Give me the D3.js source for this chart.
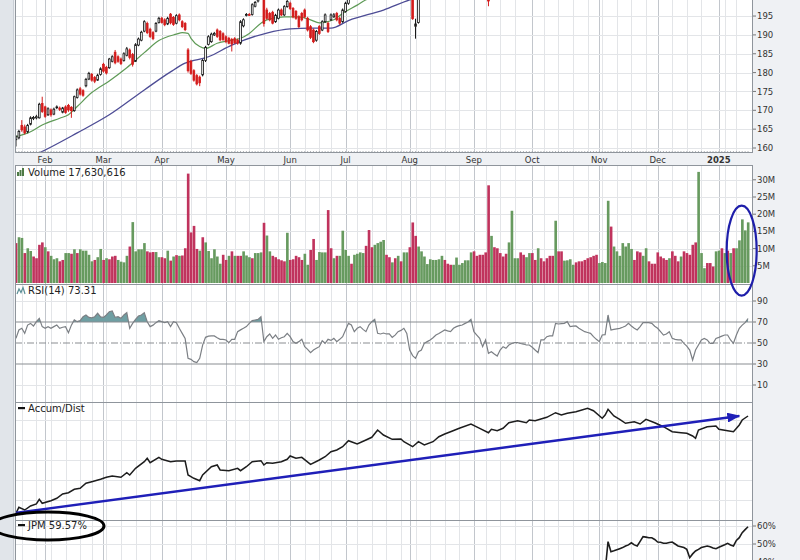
<!DOCTYPE html>
<html><head><meta charset="utf-8">
<script src="https://cdn.jsdelivr.net/npm/d3@7"></script>
<style>
body{margin:0;background:#eff1f4;}
svg{display:block;font-family:"DejaVu Sans",Verdana,sans-serif;}
</style></head>
<body><svg id="chart" width="800" height="560"></svg>
<script>
// ---------------- DATA ----------------
const firstDay = "2024-01-18", lastDay = "2025-01-17";
const holidays = ["2024-02-19","2024-03-29","2024-05-27","2024-06-19","2024-07-04","2024-09-02","2024-11-28","2024-12-25","2025-01-01","2025-01-09"];
const monthNames = ["Jan","Feb","Mar","Apr","May","Jun","Jul","Aug","Sep","Oct","Nov","Dec"];
const priceTicks = [160,165,170,175,180,185,190,195,200];
const volumeTicks = [5,10,15,20,25,30];           // millions
const rsiTicks = [10,30,50,70,90];
const perfTicks = [40,50,60];
const volumeLabel = "Volume 17,630,616";
const rsiLabel = "RSI(14) 73.31";
const adLabel = "Accum/Dist";
const perfLabel = "JPM 59.57%";

// candles (null = above the visible price range)
const candleOpen = [162.2,162.7,166.0,165.6,164.3,166.3,167.8,168.0,168.0,171.8,170.9,168.8,170.1,169.0,170.8,170.6,169.5,170.9,171.3,170.8,
169.9,173.4,175.7,175.2,176.5,178.3,179.5,178.7,178.0,179.5,182.2,181.4,181.3,183.0,185.4,184.2,183.6,183.2,184.6,186.0,
184.8,183.0,187.3,188.6,191.0,193.0,191.5,190.6,191.0,193.3,194.4,194.0,192.9,195.5,194.6,193.1,195.3,193.5,193.0,186.0,
183.0,180.5,179.2,178.8,179.4,183.2,187.5,188.2,190.0,191.3,190.9,190.3,189.5,189.1,188.8,189.0,188.6,187.8,192.4,195.2,
195.4,195.4,197.6,199.0,200.5,201.5,196.6,195.7,196.0,193.5,194.4,196.6,195.3,197.5,198.4,197.0,196.2,194.8,195.7,196.6,
194.4,192.2,191.3,188.6,192.2,191.3,193.5,193.1,194.0,194.8,195.7,194.4,193.5,196.2,198.4,null,null,null,null,null,
null,null,null,null,null,null,null,null,null,null,null,null,null,null,null,null,203.0,192.3,193.3,null,
null,null,null,null,null,null,null,null,null,null,null,null,null,null,null,null,null,null,null,null,
null,null,202.0];
const candleHigh = [163.4,164.8,167.4,166.2,166.4,168.4,168.5,168.8,172.0,173.6,171.2,170.8,170.5,170.7,171.3,171.0,170.9,171.3,171.7,171.1,
173.9,175.8,176.2,175.6,178.6,180.2,179.9,179.1,179.7,181.4,182.6,181.8,183.9,184.6,186.0,184.6,184.0,185.4,186.8,186.4,
185.2,187.8,189.3,191.1,193.9,193.5,191.9,191.0,193.4,194.8,194.8,194.4,194.8,195.8,195.0,195.5,195.7,193.9,193.4,186.5,
183.4,180.9,179.6,179.2,183.6,187.1,189.9,190.6,190.8,191.7,191.3,190.7,189.9,189.5,189.2,189.4,189.0,193.9,194.4,195.8,
195.8,198.4,199.0,201.0,202.5,202.0,197.2,196.1,196.4,195.6,197.0,197.0,197.9,199.3,198.8,197.4,196.6,195.2,196.1,197.0,
194.8,192.6,191.7,191.3,192.6,193.9,195.7,193.5,195.7,195.8,196.1,194.8,197.0,198.8,200.0,null,null,null,null,null,
null,null,null,null,null,null,null,null,null,null,null,null,null,null,null,null,203.5,194.3,201.0,null,
null,null,null,null,null,null,null,null,null,null,null,null,null,null,null,null,null,null,null,null,
null,null,204.0];
const candleLow = [160.4,162.3,164.3,163.6,163.9,166.0,167.4,167.6,167.8,169.3,168.0,168.5,168.3,168.7,170.3,169.8,169.2,169.1,169.6,168.0,
169.6,173.1,173.9,173.6,176.1,178.0,177.6,177.2,177.8,179.2,180.0,179.5,181.0,182.7,182.2,182.6,182.0,182.9,184.3,183.5,
181.6,182.8,187.0,188.3,190.7,190.2,189.2,188.6,190.7,193.0,193.0,192.3,192.6,192.8,192.4,192.8,193.6,191.8,191.0,180.0,
179.4,177.6,176.6,176.4,179.0,182.8,187.2,187.9,189.7,189.2,188.3,188.4,187.8,187.5,185.6,187.6,187.4,187.4,192.0,194.9,
195.0,195.1,197.3,198.6,200.0,192.2,194.0,193.6,192.8,193.2,194.1,195.0,195.0,197.2,196.6,194.4,194.0,191.8,193.6,194.4,
190.9,188.9,187.8,188.2,190.0,191.0,193.2,190.5,193.7,194.5,193.6,192.7,193.2,195.9,198.0,null,null,null,null,null,
null,null,null,null,null,null,null,null,null,null,null,null,null,null,null,null,194.0,189.0,193.0,null,
null,null,null,null,null,null,null,null,null,null,null,null,null,null,null,null,null,null,null,null,
null,null,197.6];
const candleClose = [163.0,164.4,164.8,164.0,166.0,168.0,168.1,168.3,171.6,169.7,168.4,170.4,168.8,170.3,170.9,170.2,170.6,169.4,170.1,169.9,
173.6,175.4,174.3,174.0,178.2,179.8,178.0,177.7,179.3,181.0,180.4,179.9,183.6,184.2,182.6,183.0,182.4,185.0,186.3,184.0,
182.2,187.4,188.9,190.7,193.5,190.6,189.6,189.0,193.0,194.4,193.3,192.7,194.4,193.2,192.8,195.1,194.0,192.2,191.4,180.5,
179.8,178.0,177.0,177.3,183.2,186.7,189.5,190.2,190.4,189.6,188.7,188.8,188.2,187.8,187.6,187.9,187.8,193.5,194.0,195.4,
195.3,198.0,198.6,200.5,202.0,193.0,194.4,194.0,193.1,195.2,196.6,195.3,197.5,198.9,197.0,194.8,194.4,192.2,194.0,194.8,
191.3,189.3,188.2,190.9,190.4,193.5,195.3,190.9,195.3,195.3,194.0,193.1,196.6,198.4,199.5,null,null,null,null,null,
null,null,null,null,null,null,null,null,null,null,null,null,null,null,null,null,194.3,192.9,200.5,null,
null,null,null,null,null,null,null,null,null,null,null,null,null,null,null,null,null,null,null,null,
null,null,199.0];

// moving averages (trading-day index, price)
const maShortDay = [0,5,9,15,18,21,26,32,38,44,49,55,57,59,60,63,65,69,74,77,80,84,86,92,97,101,104,109,112,117,120,124];
const maShortVal = [163.0,164.3,166.1,167.9,168.8,171.0,174.7,177.8,181.3,185.3,188.5,190.2,190.6,190.4,189.1,186.9,186.4,187.8,188.6,189.1,190.4,193.1,194.0,194.8,194.8,194.0,193.2,194.0,195.7,197.9,199.3,200.6];
const maLongDay = [0,8,21,32,44,53,58,66,74,86,94,101,108,114,126,135,140];
const maLongVal = [156.0,158.7,164.0,168.8,175.4,180.2,182.5,184.2,187.3,190.5,191.6,191.8,191.8,193.8,196.6,199.3,200.5];

// volume (millions) and up/down days
const volumeM = [11.6,13.3,13.1,8.7,10.1,9.3,7.7,7.2,11.1,11.8,
10.4,9.2,7.9,6.9,7.2,6.3,6.7,8.7,8.7,8.5,
9.8,8.7,9.8,9.4,9.4,8.2,6.3,6.7,7.5,9.9,
6.7,7.2,6.9,7.7,7.9,6.7,6.2,6.0,7.9,10.6,
17.7,9.2,9.8,9.8,11.6,9.2,8.9,9.0,9.0,7.5,
7.5,7.2,9.4,6.5,7.7,8.1,7.9,8.0,10.1,31.8,
14.7,16.6,9.9,9.4,13.3,11.8,9.3,7.2,9.8,7.7,
5.6,8.2,6.7,7.9,9.2,7.9,7.9,7.9,9.2,8.0,
7.5,7.2,8.7,8.7,8.9,17.5,13.8,9.2,7.9,7.5,
6.9,6.6,6.3,14.6,6.7,6.9,7.9,7.5,6.7,8.5,
5.3,9.6,12.8,6.7,9.0,8.9,8.9,21.2,10.1,7.2,
7.9,7.9,15.2,9.6,7.9,5.6,8.2,8.5,8.9,8.7,
10.8,15.4,10.4,11.1,11.6,12.0,12.5,8.2,7.5,6.0,
7.2,7.9,6.3,8.9,8.9,10.4,17.6,13.7,10.6,9.2,
7.7,5.5,6.9,6.7,6.7,6.9,7.9,6.7,5.6,5.3,
5.3,7.4,5.3,5.8,6.6,6.6,8.9,9.2,7.9,8.2,
8.2,8.9,28.4,13.7,10.4,10.1,8.7,7.7,8.5,11.8,
21.0,7.2,7.2,8.9,8.2,7.5,8.7,8.7,6.7,10.1,
7.2,6.3,7.2,7.9,7.9,18.1,9.2,9.2,6.5,6.6,
6.9,5.3,6.0,6.3,6.3,6.7,7.2,7.5,7.9,8.2,
5.8,6.1,5.8,23.9,16.4,10.6,9.2,7.9,11.6,10.6,
11.6,9.9,6.7,9.2,8.9,7.9,10.1,6.3,5.6,5.6,
8.9,7.7,7.2,6.7,7.2,9.2,7.9,6.3,7.7,9.2,
8.7,8.2,11.1,11.8,32.3,8.7,4.3,5.8,5.8,4.8,
9.2,9.4,10.1,8.7,9.4,8.7,10.1,10.1,12.4,18.5,
15.3,17.63];
const volumeUpDown = ("DUUDUUDDDD"+"UDUUUDDUUD"+"UDUUUUUDUU"+"DUDDDUUUUD"+"UUUUUDDDUU"+
 "DDUDUDUDDD"+"DDDUDUUUUU"+"UDDUDUDDUU"+"UDUUUDUUDD"+"DDDUDDDDDU"+
 "UDDUUUUDDU"+"DUUUUDUUUU"+"DDDUUUUDDU"+"DUDUUDDDUU"+"UUUUUUUDDD"+
 "UUUUUUUDDD"+"DDDUDDDDDU"+"UUUDDUUDDU"+"DDDDDUDDUU"+"UUDDDDDDDD"+
 "UUUUDUUUUU"+"UUDDDUUDDD"+"DDDDUDDDUD"+"DDDDUUUDDD"+"UUDUDUDUUU"+"UU").split("");

// RSI(14)
const rsi14 = [54.4,62.4,64,59.2,67.1,68.7,66.2,70.3,73.5,65.6,64,65.6,64,65.6,67.1,64,65,65.6,59.8,67,
72,70.3,71.3,75,76.7,74.4,74,75,78.3,74.8,74.4,76.7,79.8,80.5,74.4,75,73.5,76.7,78.9,64,
68.7,72.5,75.7,76.7,78.9,70.3,65.6,67,69.4,71.3,70.3,69.4,70.3,65.6,70.3,69.4,64,59.2,54.4,35.4,
34.4,32.2,31.3,35.4,48,55.4,56.5,56.7,56.7,55,53.5,53.5,52.9,50.3,53.5,53.5,60.8,62.5,64,65.6,
68.7,71.3,71.9,72.5,75,51.3,56,58.6,54.4,57.6,53.5,55,56,59.2,56,51.3,49.7,51.3,53.5,46.5,
44,40.8,43.3,44.9,46.5,52.2,49.7,53.5,52.5,54.4,51.3,53.5,56,62.4,68.7,67.1,60.8,64,65.6,63,
60.8,67.1,70.3,72.5,59.2,58.6,59.5,58.6,58.6,55.4,57.5,60.8,62,64,59.2,43.3,38,35.4,41.7,43.3,
49.7,51.3,52.9,55,57.6,59,60.8,62.4,61.5,60.8,64,65.6,66.5,67.1,68.7,70,72.5,60.8,57.6,54.4,
46.5,52.9,40.2,41.7,39.5,37.6,43.3,46.5,44.9,48.1,49.5,50.3,50.3,49.5,49,48.1,48.1,46,43.3,40.8,
52.9,52.9,56,56.7,56.7,68.7,68.1,68.5,68.7,70.3,65.6,66,66.2,64,62.4,60.8,60,59.2,56,53.5,
51.3,57.6,58,76.7,62.4,63,63.5,64,65,66.2,68.7,66.2,64,62.4,65.6,69.4,69.4,69.4,68.7,66,
64,60.8,57.6,58.6,60.8,54.4,53.5,53,52.9,49.7,47.1,43.3,33.8,43.3,48.1,52.9,54.4,52.9,49.7,49.7,
54.4,55.4,56.5,57.6,57.6,52.9,49.7,57.6,64,67,69.4,73.31];

// Accumulation/Distribution line (relative, millions) read at trading-day indices
const adDay = [0,1,3,5,7,8,9,12,14,16,18,20,22,24,26,29,31,33,36,38,39,41,44,45,46,49,50,53,55,58,59,61,63,64,67,69,70,73,76,77,79,81,84,85,86,88,91,93,94,96,98,101,104,106,108,110,112,114,117,120,122,124,126,129,132,133,136,138,140,143,145,147,149,152,156,159,162,163,165,167,169,172,175,176,178,182,185,187,189,192,196,198,201,202,203,205,207,209,212,214,216,219,222,225,228,230,232,233,234,237,240,241,244,246,248,249,251];
const adValue = [6.7,12.7,10,14,16,20.7,16.7,19.3,21.7,26,27.3,30.7,31.7,36.7,38.3,40.7,42.7,44,42.7,47.3,45,51.7,58.3,61.7,57.3,62.7,60.7,58.3,59,59,45,41.7,39.3,45,53.3,55,50,49.3,51.7,49.3,53.3,58.3,59.3,55,57.3,56.7,58.3,60.7,64,61.7,62.7,55.7,60,63.3,68.3,70,73.3,79.3,76,80,82.7,90,85,80.7,81,78.3,73.3,78.3,75,78.3,83.3,86,88.3,91.7,96,91.7,87.3,90.7,89.3,91.7,97.3,99.3,97.3,100,99.3,102.7,107.3,105,106.7,108.3,111.7,109.3,101.7,105,110.7,104,100.7,96.7,98.3,96,100.7,97.3,93.3,88.3,87.3,86.7,84,81.7,90,93.3,94,90.7,89.3,88.3,95,100,104];

// JPM performance (%), visible part of the lower panel
const perfDay = [202,203,204,205,206,207,208,209,210,211,212,213,214,215,216,217,218,219,220,221,222,223,224,225,226,227,228,229,230,231,232,233,234,235,236,237,238,239,240,241,242,243,244,245,246,247,248,249,250,251];
const perfValue = [35,51.3,45.7,46.2,46.8,47.4,48,48.9,49.5,50.7,49.5,48.9,51.5,54.1,53.8,53.5,53.5,52.5,51.1,51,50.4,50.4,50.8,51.1,50,48.9,48.5,48,47,42.4,44.5,46.1,47,48,48.5,48.9,48.5,47.8,47.4,48.2,48.9,49.6,50.4,49.5,48.9,52,53.5,56.3,58,59.57];

// annotations (in data terms)
const trendStart = {day:0, value:7}, trendEnd = {day:248, value:104};

// ---------------- LAYOUT ----------------
const svg = d3.select("#chart");
const L = 15, R = 753;
const panels = {
  price:{t:-20,b:153}, vol:{t:165,b:284}, rsi:{t:284,b:402}, ad:{t:402,b:520}, perf:{t:520,b:620}
};
const fmt = d3.utcFormat("%Y-%m-%d");
const days = d3.utcDay.range(d3.utcParse("%Y-%m-%d")(firstDay), d3.utcDay.offset(d3.utcParse("%Y-%m-%d")(lastDay),1))
  .filter(d => d.getUTCDay()!==0 && d.getUTCDay()!==6 && !holidays.includes(fmt(d)));
const dayKeys = days.map(fmt);

const x = d3.scaleBand().domain(dayKeys).range([14.5, 749.5]).paddingInner(0.2).paddingOuter(0.1);
const cx = i => x(dayKeys[i]) + x.bandwidth()/2;

const yPrice = d3.scaleLinear().domain([160,200]).range([148,-2.8]);
const yVol = d3.scaleLinear().domain([0,30]).range([283,179.8]);
const yRsi = d3.scaleLinear().domain([0,100]).range([395.5,290.5]);
const yAd = d3.scaleLinear().domain([0,118]).range([520,402]);
const yPerf = d3.scaleLinear().domain([50,60]).range([544,526]);

const monthStarts = [], weekStarts = [];
days.forEach((d,i)=>{
  if(i===0) return;
  const p = days[i-1];
  if(d.getUTCMonth()!==p.getUTCMonth()) monthStarts.push(i);
  if(d.getUTCDay() < p.getUTCDay()) weekStarts.push(i);
});
const weekOnly = weekStarts.filter(w => !monthStarts.some(m => m-w>=0 && m-w<=2));

const defs = svg.append("defs");
Object.entries(panels).forEach(([k,p])=>{
  defs.append("clipPath").attr("id","clip-"+k).append("rect")
    .attr("x",L).attr("y",p.t).attr("width",R-L).attr("height",p.b-p.t);
});

// background strips
svg.append("rect").attr("x",0).attr("y",0).attr("width",800).attr("height",560).attr("fill","#eff1f4");
svg.append("rect").attr("x",0).attr("y",0).attr("width",13).attr("height",560).attr("fill","#e1e5ea");
svg.append("line").attr("x1",13.5).attr("x2",13.5).attr("y1",0).attr("y2",560).attr("stroke","#c9ced5");

// panel frames + vertical grids
Object.entries(panels).forEach(([k,p])=>{
  svg.append("rect").attr("x",L).attr("y",p.t).attr("width",R-L).attr("height",p.b-p.t)
    .attr("fill","#fff");
  const g = svg.append("g").attr("clip-path",`url(#clip-${k})`);
  g.selectAll("line.w").data(weekOnly).join("line")
    .attr("x1",i=>Math.round(cx(i))+0.5).attr("x2",i=>Math.round(cx(i))+0.5)
    .attr("y1",p.t).attr("y2",p.b).attr("stroke","#e3e5e8").attr("stroke-width",1);
  g.selectAll("line.m").data(monthStarts).join("line")
    .attr("x1",i=>Math.round(cx(i))+0.5).attr("x2",i=>Math.round(cx(i))+0.5)
    .attr("y1",p.t).attr("y2",p.b).attr("stroke","#c2c6cc").attr("stroke-width",1);
});

function hGrid(panelKey, scale, ticks, color){
  const g = svg.append("g").attr("clip-path",`url(#clip-${panelKey})`);
  g.selectAll("line").data(ticks).join("line")
    .attr("x1",L).attr("x2",R).attr("y1",d=>Math.round(scale(d))+0.5).attr("y2",d=>Math.round(scale(d))+0.5)
    .attr("stroke",color||"#e3e5e8");
}
function rightAxis(scale, ticks, fmtFn, top, bottom){
  const g = svg.append("g");
  ticks.forEach(t=>{
    const yy = scale(t);
    if(yy<top-6||yy>bottom+6) return;
    g.append("line").attr("x1",R).attr("x2",R+3).attr("y1",yy).attr("y2",yy).attr("stroke","#777");
    g.append("text").attr("x",R+4).attr("y",yy).attr("dy","0.36em").attr("font-size",8.5)
      .attr("fill","#333").text(fmtFn(t));
  });
}

// ---------- PRICE ----------
hGrid("price", yPrice, priceTicks);
const gPrice = svg.append("g").attr("clip-path","url(#clip-price)");
const lineMA = (days_, vals, sc) => d3.line().x((d,i)=>cx(days_[i])).y((d,i)=>sc(vals[i])).curve(d3.curveMonotoneX)(vals);
gPrice.append("path").attr("d",lineMA(maLongDay,maLongVal,yPrice)).attr("fill","none").attr("stroke","#4d4c95").attr("stroke-width",1.3);
gPrice.append("path").attr("d",lineMA(maShortDay,maShortVal,yPrice)).attr("fill","none").attr("stroke","#5e9a56").attr("stroke-width",1.2);
const candleIdx = d3.range(candleClose.length).filter(i=>candleClose[i]!==null);
const bw = x.bandwidth();
const cg = gPrice.selectAll("g.c").data(candleIdx).join("g");
cg.append("line").attr("x1",i=>cx(i)).attr("x2",i=>cx(i))
  .attr("y1",i=>yPrice(candleHigh[i])).attr("y2",i=>yPrice(candleLow[i]))
  .attr("stroke",i=>candleClose[i]>=candleOpen[i]?"#111":"#d41c1c").attr("stroke-width",1);
cg.append("rect").attr("x",i=>cx(i)-bw/2+0.3).attr("width",bw-0.6)
  .attr("y",i=>yPrice(Math.max(candleOpen[i],candleClose[i])))
  .attr("height",i=>Math.max(0.8,Math.abs(yPrice(candleOpen[i])-yPrice(candleClose[i]))))
  .attr("fill",i=>candleClose[i]>=candleOpen[i]?"#fff":"#d41c1c")
  .attr("stroke",i=>candleClose[i]>=candleOpen[i]?"#111":"#d41c1c").attr("stroke-width",0.8);
// day ticks along the bottom edge
svg.append("g").selectAll("line").data(d3.range(dayKeys.length)).join("line")
  .attr("x1",i=>cx(i)).attr("x2",i=>cx(i)).attr("y1",151).attr("y2",153).attr("stroke","#8d9196").attr("stroke-width",0.7);
svg.append("rect").attr("x",L+0.5).attr("y",panels.price.t).attr("width",R-L-1).attr("height",panels.price.b-panels.price.t-0.5)
  .attr("fill","none").attr("stroke","#8f959c");
rightAxis(yPrice, priceTicks, d=>d, -10, 153);

// month labels
svg.append("g").selectAll("text").data(monthStarts).join("text")
  .attr("x",i=>cx(i)).attr("y",163).attr("text-anchor","middle").attr("font-size",8.5)
  .attr("font-weight",i=>days[i].getUTCMonth()===0?"bold":"normal")
  .attr("fill","#333")
  .text(i=>days[i].getUTCMonth()===0?String(days[i].getUTCFullYear()):monthNames[days[i].getUTCMonth()]);

// ---------- VOLUME ----------
hGrid("vol", yVol, volumeTicks);
const gVol = svg.append("g").attr("clip-path","url(#clip-vol)");
gVol.selectAll("rect").data(volumeM).join("rect")
  .attr("x",(d,i)=>x(dayKeys[i])).attr("width",bw+0.3)
  .attr("y",d=>yVol(d)).attr("height",d=>yVol(0)-yVol(d))
  .attr("fill",(d,i)=>volumeUpDown[i]==="U"?"#679a5f":"#c0335d");
rightAxis(yVol, volumeTicks, d=>d+"M", 165, 284);

// ---------- RSI ----------
hGrid("rsi", yRsi, [10,90]);
const gR = svg.append("g").attr("clip-path","url(#clip-rsi)");
defs.append("clipPath").attr("id","clip-ob").append("rect").attr("x",L).attr("y",panels.rsi.t).attr("width",R-L).attr("height",yRsi(70)-panels.rsi.t);
gR.append("path").attr("clip-path","url(#clip-ob)")
  .attr("d",d3.area().x((d,i)=>cx(i)).y0(yRsi(70)).y1(d=>yRsi(d))(rsi14))
  .attr("fill","#6f9fa3");
gR.append("line").attr("x1",L).attr("x2",R).attr("y1",yRsi(70)).attr("y2",yRsi(70)).attr("stroke","#8a8d91").attr("stroke-width",1.2);
gR.append("line").attr("x1",L).attr("x2",R).attr("y1",yRsi(30)).attr("y2",yRsi(30)).attr("stroke","#8a8d91").attr("stroke-width",1.2);
gR.append("line").attr("x1",L).attr("x2",R).attr("y1",yRsi(50)).attr("y2",yRsi(50)).attr("stroke","#8a8d91").attr("stroke-width",1).attr("stroke-dasharray","7,2,1,2");
gR.append("path").attr("d",d3.line().x((d,i)=>cx(i)).y(d=>yRsi(d))(rsi14))
  .attr("fill","none").attr("stroke","#7b7f84").attr("stroke-width",1.2);
rightAxis(yRsi, rsiTicks, d=>d, 284, 402);

// ---------- ACCUM/DIST ----------
hGrid("ad", yAd, [20,40,60,80,100]);
const gA = svg.append("g").attr("clip-path","url(#clip-ad)");
gA.append("path").attr("d",d3.line().x((d,i)=>cx(adDay[i])).y(d=>yAd(d))(adValue))
  .attr("fill","none").attr("stroke","#1d1d1d").attr("stroke-width",1.5);
defs.append("marker").attr("id","arrow").attr("markerUnits","userSpaceOnUse")
  .attr("markerWidth",14).attr("markerHeight",10).attr("refX",12).attr("refY",5).attr("orient","auto")
  .append("path").attr("d","M0,0 L13,5 L0,10 Z").attr("fill","#1f1fb8");
svg.append("line").attr("x1",L).attr("y1",yAd(trendStart.value))
  .attr("x2",cx(trendEnd.day)).attr("y2",yAd(trendEnd.value))
  .attr("stroke","#1f1fb8").attr("stroke-width",2.4).attr("marker-end","url(#arrow)");

// ---------- PERFORMANCE ----------
hGrid("perf", yPerf, perfTicks);
const gP = svg.append("g").attr("clip-path","url(#clip-perf)");
gP.append("path").attr("d",d3.line().x((d,i)=>cx(perfDay[i])).y(d=>yPerf(d))(perfValue))
  .attr("fill","none").attr("stroke","#1d1d1d").attr("stroke-width",1.6);
rightAxis(yPerf, perfTicks, d=>d+"%", 520, 570);

// panel outlines
["vol","rsi","ad","perf"].forEach(k=>{
  const p = panels[k];
  svg.append("rect").attr("x",L+0.5).attr("y",p.t+0.5).attr("width",R-L-1).attr("height",p.b-p.t)
    .attr("fill","none").attr("stroke","#8f959c");
});

// ---------- PANEL LABELS ----------
const lab = svg.append("g").attr("font-size",10).attr("fill","#222");
// volume icon
[[17,172,4],[19.5,170,6],[22,168,8]].forEach(([bx,by,h])=>lab.append("rect").attr("x",bx).attr("y",176-h).attr("width",2).attr("height",h).attr("fill","#4d7a45"));
lab.append("text").attr("x",28).attr("y",176).text(volumeLabel);
lab.append("path").attr("d","M17,294 L19,289 L21,292.5 L23,287.5 L25,294").attr("fill","none").attr("stroke","#5b8f96").attr("stroke-width",1.2);
lab.append("text").attr("x",28).attr("y",294).text(rsiLabel);
lab.append("rect").attr("x",18).attr("y",407).attr("width",7).attr("height",2.2).attr("fill","#111");
lab.append("text").attr("x",28).attr("y",412).text(adLabel);
lab.append("rect").attr("x",18).attr("y",524).attr("width",7).attr("height",2.2).attr("fill","#111");
lab.append("text").attr("x",28).attr("y",529).text(perfLabel);

// ---------- ANNOTATION ELLIPSES ----------
svg.append("ellipse").attr("cx",(cx(248)+cx(251))/2-2).attr("cy",yVol(10)+2).attr("rx",15).attr("ry",45)
  .attr("fill","none").attr("stroke","#1e1eaa").attr("stroke-width",2.2);
svg.append("ellipse").attr("cx",48).attr("cy",526).attr("rx",56).attr("ry",14)
  .attr("fill","none").attr("stroke","#000").attr("stroke-width",3);
</script>
</body></html>
